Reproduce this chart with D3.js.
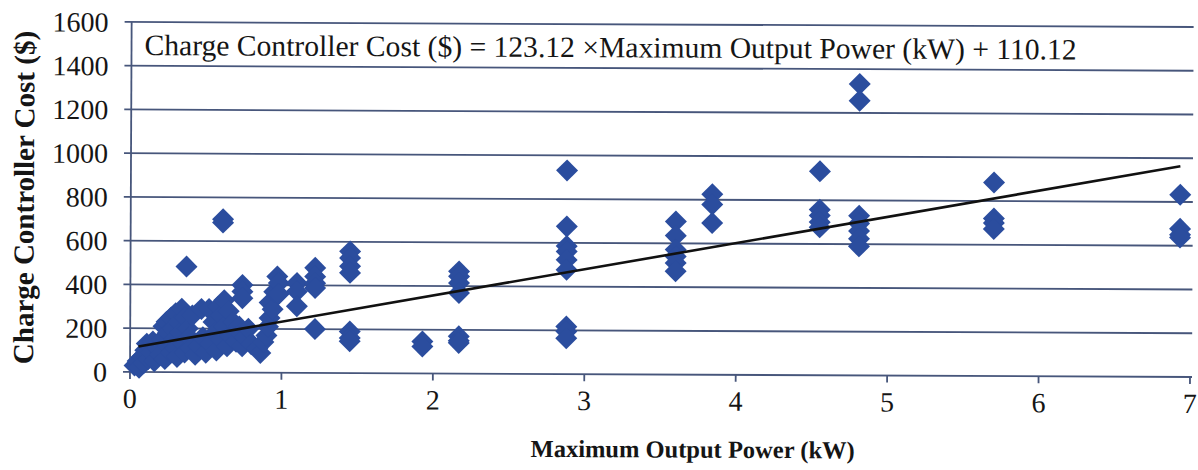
<!DOCTYPE html>
<html>
<head>
<meta charset="utf-8">
<script src="https://cdn.jsdelivr.net/npm/d3@7/dist/d3.min.js"></script>
<style>
  html, body { margin: 0; padding: 0; background: #fff; }
  svg { display: block; }
  text { font-family: "Liberation Serif", "Times New Roman", Times, serif; fill: #151515; }
</style>
</head>
<body>
<svg id="chart" width="1198" height="470"></svg>
<script>
// Maximum output power (kW) of each charge controller
const power = [
  0.03, 0.05, 0.06, 0.08, 0.09, 0.10, 0.11, 0.12, 0.14, 0.15, 0.16, 0.18, 0.20, 0.21,
  0.22, 0.23, 0.24, 0.25, 0.25, 0.27, 0.27, 0.28, 0.29, 0.30, 0.30, 0.31, 0.32, 0.33,
  0.34, 0.35, 0.36, 0.36, 0.37, 0.38, 0.39, 0.40, 0.41, 0.43, 0.45, 0.47, 0.48, 0.50,
  0.52, 0.53, 0.55, 0.56, 0.57, 0.58, 0.60, 0.60, 0.61, 0.61, 0.62, 0.62, 0.64, 0.65,
  0.66, 0.68, 0.70, 0.72, 0.73, 0.74, 0.74, 0.74, 0.74, 0.76, 0.78, 0.80, 0.84, 0.86,
  0.88, 0.90, 0.91, 0.92, 0.92, 0.94, 0.95, 0.97, 0.98, 0.98,
  1.10, 1.10, 1.10,
  1.22, 1.22, 1.22, 1.22, 1.22,
  1.45, 1.45, 1.45, 1.45, 1.45, 1.45, 1.45,
  1.93, 1.93,
  2.17, 2.17, 2.17, 2.17, 2.17, 2.17, 2.17,
  2.88, 2.88, 2.88, 2.88, 2.88, 2.88, 2.88, 2.88, 2.88,
  3.60, 3.60, 3.60, 3.60, 3.60, 3.60,
  3.84, 3.84, 3.84,
  4.55, 4.55, 4.55, 4.55, 4.55,
  4.81, 4.81, 4.81, 4.81, 4.81, 4.81, 4.81,
  5.70, 5.70, 5.70, 5.70,
  6.93, 6.93, 6.93, 6.93
];

// Charge controller cost ($), same order as power
const cost = [
  30, 50, 20, 70, 40, 100, 130, 60, 90, 140, 50, 110, 80, 150,
  210, 60, 230, 180, 120, 90, 250, 200, 150, 270, 110, 70, 230, 180,
  290, 130, 250, 90, 483, 200, 160, 110, 260, 80, 120, 290, 160, 90,
  290, 130, 230, 180, 100, 300, 260, 150, 700, 685, 330, 210, 120, 280,
  170, 230, 140, 210, 180, 400, 370, 340, 120, 160, 200, 130, 110, 90,
  140, 170, 210, 250, 320, 290, 370, 440, 410, 360,
  410, 372, 304,
  480, 440, 410, 388, 200,
  556, 526, 488, 458, 190, 160, 145,
  146, 123,
  467, 444, 414, 368, 170, 150, 140,
  931, 675, 585, 560, 522, 477, 217, 195, 164,
  700, 635, 571, 540, 510, 472,
  825, 778, 694,
  932, 757, 730, 700, 676,
  1332, 1256, 730, 695, 660, 625, 590,
  885, 720, 700, 672,
  833, 677, 650, 637
];

// Axis ticks and the fitted linear model
const xTicks = [0, 1, 2, 3, 4, 5, 6, 7];
const yTicks = [0, 200, 400, 600, 800, 1000, 1200, 1400, 1600];
const fitSlope = [123.12];
const fitIntercept = [110.12];
const equationText = ["Charge Controller Cost ($) = 123.12 \u00D7Maximum Output Power (kW) + 110.12"];
const xTitle = ["Maximum Output Power (kW)"];
const yTitle = ["Charge Controller Cost ($)"];

const svg = d3.select("#chart");
const margin = { left: 130, top: 22, right: 8, bottom: 98 };
const width = 1198 - margin.left - margin.right;
const height = 470 - margin.top - margin.bottom;

// The printed figure sits slightly tilted on the page
const root = svg.append("g")
  .attr("transform", `rotate(0.27, ${margin.left}, ${margin.top + height})`);
const g = root.append("g").attr("transform", `translate(${margin.left},${margin.top})`);

const x = d3.scaleLinear().domain([0, 7]).range([0, width]);
const y = d3.scaleLinear().domain([0, 1600]).range([height, 0]);

const gridColor = "#47567b";

// Horizontal gridlines (extend past the axis as tick marks)
g.append("g")
  .selectAll("line")
  .data(yTicks)
  .join("line")
  .attr("x1", -7)
  .attr("x2", width + 2)
  .attr("y1", d => y(d))
  .attr("y2", d => y(d))
  .attr("stroke", gridColor)
  .attr("stroke-width", 1.8);

// Vertical axis line
g.append("line")
  .attr("x1", x(0)).attr("x2", x(0))
  .attr("y1", y(1600)).attr("y2", y(0) + 7)
  .attr("stroke", gridColor)
  .attr("stroke-width", 1.8);

// X tick marks
g.append("g")
  .selectAll("line")
  .data(xTicks.slice(1))
  .join("line")
  .attr("x1", d => x(d)).attr("x2", d => x(d))
  .attr("y1", y(0)).attr("y2", y(0) + 7)
  .attr("stroke", gridColor)
  .attr("stroke-width", 1.8);

// Y tick labels
g.append("g")
  .selectAll("text")
  .data(yTicks)
  .join("text")
  .attr("x", -23)
  .attr("y", d => y(d))
  .attr("dy", "0.35em")
  .attr("text-anchor", "end")
  .attr("font-size", 28)
  .text(d => d);

// X tick labels
g.append("g")
  .selectAll("text")
  .data(xTicks)
  .join("text")
  .attr("x", d => x(d))
  .attr("y", y(0) + 36)
  .attr("text-anchor", "middle")
  .attr("font-size", 28)
  .text(d => d);

// Data points as diamonds
const r = 11;
g.append("g")
  .selectAll("path")
  .data(power.map((p, i) => [p, cost[i]]))
  .join("path")
  .attr("transform", d => `translate(${x(d[0])},${y(d[1])})`)
  .attr("d", `M0,${-r}L${r},0L0,${r}L${-r},0Z`)
  .attr("fill", "#2b4d9e");

// Linear trend line across the observed power range
const fit = v => fitSlope[0] * v + fitIntercept[0];
const [pMin, pMax] = d3.extent(power);
g.append("line")
  .attr("x1", x(pMin + 0.025)).attr("y1", y(fit(pMin + 0.025)))
  .attr("x2", x(pMax)).attr("y2", y(fit(pMax)))
  .attr("stroke", "#111")
  .attr("stroke-width", 2.6);

// Regression equation
g.append("text")
  .attr("x", 13)
  .attr("y", 33)
  .attr("font-size", 29.6)
  .text(equationText[0]);

// Axis titles
g.append("text")
  .attr("x", 563)
  .attr("y", height + 83)
  .attr("text-anchor", "middle")
  .attr("font-size", 24.5)
  .attr("font-weight", "bold")
  .text(xTitle[0]);

g.append("text")
  .attr("transform", `translate(${-97},${176}) rotate(-90)`)
  .attr("text-anchor", "middle")
  .attr("font-size", 29)
  .attr("font-weight", "bold")
  .text(yTitle[0]);
</script>
</body>
</html>
